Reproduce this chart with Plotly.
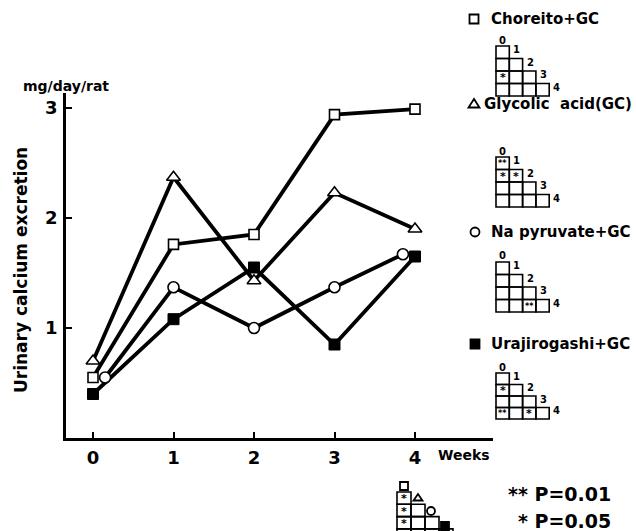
import plotly.graph_objects as go

# ---------------- data ----------------
weeks = [0, 1, 2, 3, 4]
na_weeks = [0.15, 1, 2, 3, 3.85]          # Na pyruvate points drawn slightly offset in the original
choreito = [0.55, 1.76, 1.85, 2.94, 2.99]
glycolic = [0.70, 2.37, 1.43, 2.23, 1.90]
na_pyruvate = [0.55, 1.37, 1.00, 1.37, 1.67]
urajirogashi = [0.40, 1.08, 1.55, 0.85, 1.65]

x_ticks = [0, 1, 2, 3, 4]
y_ticks = [1, 2, 3]

series_names = ["Choreito+GC", "Glycolic&nbsp;&nbsp;acid(GC)", "Na pyruvate+GC", "Urajirogashi+GC"]
grid_labels = ["0", "1", "2", "3", "4"]
# significance marks in the pairwise week-comparison triangles: (row, col, mark)
choreito_sig = [(2, 0, "*")]
glycolic_sig = [(0, 0, "**"), (1, 0, "*"), (1, 1, "*")]
na_sig = [(3, 2, "**")]
ura_sig = [(1, 0, "*"), (3, 0, "**"), (3, 2, "*")]
key_sig = [(0, 0, "*"), (1, 0, "*"), (2, 0, "*")]
p_labels = ["** P=0.01", "* P=0.05"]

# ---------------- layout helpers ----------------
W, H = 636, 531
FONT = "DejaVu Sans"


def px(x):
    return x / W


def py(y):
    return 1 - y / H


shapes = []
annotations = []


def rect(x0, y0, x1, y1, fill="rgba(0,0,0,0)", lw=1.5):
    shapes.append(dict(type="rect", xref="paper", yref="paper",
                       x0=px(x0), x1=px(x1), y0=py(y1), y1=py(y0),
                       line=dict(color="black", width=lw), fillcolor=fill))


def sym(kind, cx, cy, s=9, lw=1.8):
    h = s / 2
    if kind == "square":
        rect(cx - h, cy - h, cx + h, cy + h, fill="white", lw=lw)
    elif kind == "fsquare":
        rect(cx - h, cy - h, cx + h, cy + h, fill="black", lw=lw)
    elif kind == "circle":
        shapes.append(dict(type="circle", xref="paper", yref="paper",
                           x0=px(cx - h), x1=px(cx + h), y0=py(cy + h), y1=py(cy - h),
                           line=dict(color="black", width=lw), fillcolor="white"))
    elif kind == "triangle":
        path = "M {},{} L {},{} L {},{} Z".format(
            px(cx), py(cy - h - 0.5), px(cx - h - 1), py(cy + h - 1), px(cx + h + 1), py(cy + h - 1))
        shapes.append(dict(type="path", xref="paper", yref="paper", path=path,
                           line=dict(color="black", width=lw), fillcolor="white"))


def text(t, x, y, size, xanchor="left", yanchor="middle", bold=True, angle=0, family=FONT):
    annotations.append(dict(text=("<b>%s</b>" % t) if bold else t, x=px(x), y=py(y),
                            xref="paper", yref="paper", showarrow=False,
                            xanchor=xanchor, yanchor=yanchor, textangle=angle,
                            font=dict(family=family, size=size, color="black")))


def tri_grid(x0, y0, cw, ch, sig, labels=None):
    for r in range(4):
        for c in range(r + 1):
            rect(x0 + c * cw, y0 + r * ch, x0 + (c + 1) * cw, y0 + (r + 1) * ch, lw=1.6)
    for (r, c, m) in sig:
        text(m, x0 + (c + 0.5) * cw, y0 + (r + 0.55) * ch, 11 if m == "*" else 8,
             xanchor="center")
    if labels:
        text(labels[0], x0 + 0.5 * cw, y0 - 6, 10, xanchor="center")
        for r in range(4):
            text(labels[r + 1], x0 + (r + 1) * cw + 2, y0 + r * ch + ch * 0.3, 10)


# ---------------- figure ----------------
fig = go.Figure()

line_style = dict(color="black", width=3.8)
for xs, ys in [(weeks, choreito), (weeks, glycolic), (na_weeks, na_pyruvate), (weeks, urajirogashi)]:
    fig.add_trace(go.Scatter(x=xs, y=ys, mode="lines", line=line_style, showlegend=False,
                             hoverinfo="skip"))

fig.add_trace(go.Scatter(x=weeks, y=choreito, mode="markers", name=series_names[0],
                         marker=dict(symbol="square", size=10, color="white",
                                     line=dict(color="black", width=1.6))))
fig.add_trace(go.Scatter(x=weeks, y=glycolic, mode="markers", name="Glycolic acid(GC)",
                         marker=dict(symbol="triangle-up", size=12, color="white",
                                     line=dict(color="black", width=1.6))))
fig.add_trace(go.Scatter(x=na_weeks, y=na_pyruvate, mode="markers", name=series_names[2],
                         marker=dict(symbol="circle", size=11, color="white",
                                     line=dict(color="black", width=1.6))))
fig.add_trace(go.Scatter(x=weeks, y=urajirogashi, mode="markers", name=series_names[3],
                         marker=dict(symbol="square", size=11, color="black",
                                     line=dict(color="black", width=1))))

# axis pixel geometry
X0_PIX, X1_PIX, XZERO, XUNIT = 66, 493, 93, 80.5
YBOT, YTOP, YUNIT = 438, 93, 110

fig.update_layout(
    width=W, height=H, margin=dict(l=0, r=0, t=0, b=0),
    paper_bgcolor="white", plot_bgcolor="white", showlegend=False,
    xaxis=dict(domain=[px(X0_PIX), px(X1_PIX)],
               range=[(X0_PIX - XZERO) / XUNIT, (X1_PIX - XZERO) / XUNIT],
               tickvals=x_ticks, ticktext=["<b>%d</b>" % v for v in x_ticks],
               ticks="inside", ticklen=6, tickwidth=1.5, tickcolor="black",
               showline=True, linecolor="black", linewidth=2.5,
               showgrid=False, zeroline=False,
               tickfont=dict(family=FONT, size=18, color="black"),
               ticklabelstandoff=2),
    yaxis=dict(domain=[py(YBOT), py(YTOP)],
               range=[0, (YBOT - YTOP) / YUNIT],
               tickvals=y_ticks, ticktext=["<b>%d</b>" % v for v in y_ticks],
               ticks="inside", ticklen=6, tickwidth=1.5, tickcolor="black",
               showline=True, linecolor="black", linewidth=2.5,
               showgrid=False, zeroline=False,
               tickfont=dict(family=FONT, size=18, color="black"),
               ticklabelstandoff=2),
)

# axis texts
text("mg/day/rat", 21, 86, 14)
text("Urinary calcium excretion", 21, 270, 17, xanchor="center", angle=-90)
text("Weeks", 436, 455, 14)

# legend entries with significance triangles
sym("square", 474, 19)
text(series_names[0], 489, 19, 15)
tri_grid(496, 46, 13.3, 12.5, choreito_sig, grid_labels)

sym("triangle", 474, 104)
text(series_names[1], 482, 104, 15)
tri_grid(496, 157, 13.3, 12.5, glycolic_sig, grid_labels)

sym("circle", 475, 232)
text(series_names[2], 489, 232, 15)
tri_grid(496, 262, 13.3, 12.5, na_sig, grid_labels)

sym("fsquare", 475, 344)
text(series_names[3], 489, 344, 15)
tri_grid(496, 373, 13.3, 11.5, ura_sig, grid_labels)

# key triangle (group comparison) at the bottom
tri_grid(397, 492, 14, 12.3, key_sig)
sym("square", 404, 486, s=8)
sym("triangle", 418, 498, s=7)
sym("circle", 431, 511, s=8)
sym("fsquare", 445, 526, s=8)

text(p_labels[0], 613, 494, 19, xanchor="right")
text(p_labels[1], 613, 521, 19, xanchor="right")

fig.update_layout(shapes=shapes, annotations=annotations)
fig.write_html("out.html")
